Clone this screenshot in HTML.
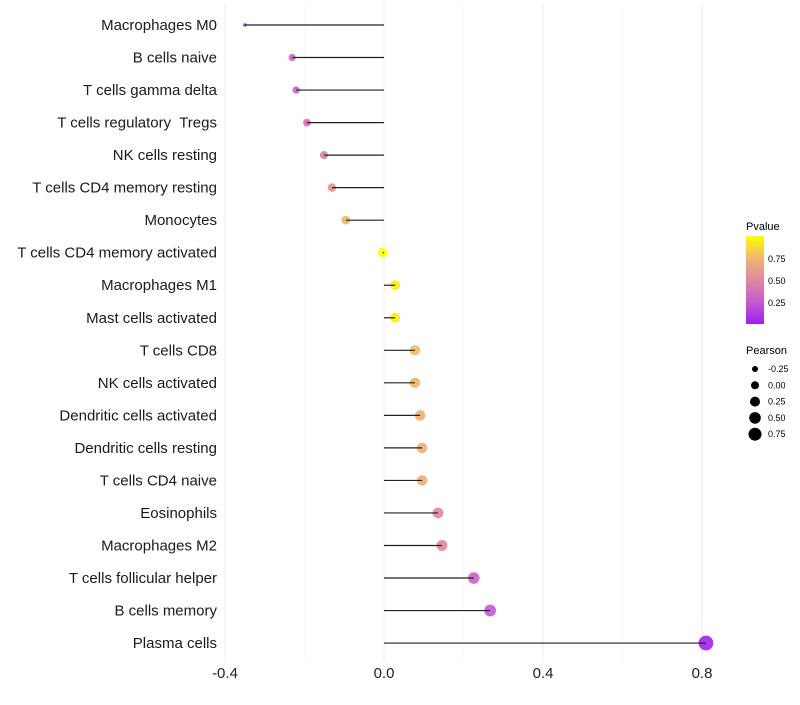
<!DOCTYPE html>
<html><head><meta charset="utf-8"><style>
body{margin:0;background:#fff;font-family:"Liberation Sans",sans-serif}
text{white-space:pre}
</style></head><body>
<svg id="chart" width="800" height="700" xmlns="http://www.w3.org/2000/svg">
<defs><linearGradient id="pg" x1="0" y1="1" x2="0" y2="0">
<stop offset="0" stop-color="#9b1ff0"/><stop offset="0.25" stop-color="#c55bd0"/><stop offset="0.5" stop-color="#dd8aa0"/><stop offset="0.75" stop-color="#f0b570"/><stop offset="1" stop-color="#ffff00"/></linearGradient></defs>
<g id="grid"></g>
<g id="marks"></g>
<g>
<text x="746" y="230" font-size="11">Pvalue</text>
<rect x="746" y="236" width="18" height="88" fill="url(#pg)"/>
<text x="768" y="262" font-size="9">0.75</text>
<text x="768" y="284" font-size="9">0.50</text>
<text x="768" y="306" font-size="9">0.25</text>
</g>
<g id="sizeleg">
<text x="746" y="354" font-size="11">Pearson</text>
</g>
</svg>
<script>
const categories=["Macrophages M0","B cells naive","T cells gamma delta","T cells regulatory  Tregs","NK cells resting","T cells CD4 memory resting","Monocytes","T cells CD4 memory activated","Macrophages M1","Mast cells activated","T cells CD8","NK cells activated","Dendritic cells activated","Dendritic cells resting","T cells CD4 naive","Eosinophils","Macrophages M2","T cells follicular helper","B cells memory","Plasma cells"];
const pearson=[-0.35,-0.231,-0.221,-0.194,-0.151,-0.131,-0.096,-0.003,0.028,0.028,0.078,0.078,0.091,0.096,0.096,0.136,0.146,0.226,0.267,0.81];
const pvalue=[0.05,0.32,0.3,0.36,0.47,0.56,0.74,1.0,0.94,0.94,0.76,0.75,0.73,0.72,0.72,0.52,0.5,0.3,0.25,0.02];
const xTicks=[-0.4,0.0,0.4,0.8];
const xMinor=[-0.2,0.2,0.6];
const sizeLegend=[-0.25,0.00,0.25,0.50,0.75];
const NS="http://www.w3.org/2000/svg";
const xs=v=>384+v*397.5;
const ys=i=>25+i*32.53;
const pMin=Math.min(...pearson),pMax=Math.max(...pearson);
const rs=v=>{const t=Math.max(0,Math.min(1,(v-pMin)/(pMax-pMin)));return 1.8+5.6*Math.sqrt(t);};
const stops=[[0,[160,32,240]],[0.25,[200,90,210]],[0.5,[222,138,160]],[0.75,[240,181,112]],[1,[255,255,0]]];
function col(p){for(let i=1;i<stops.length;i++){if(p<=stops[i][0]){const a=stops[i-1],b=stops[i],t=(p-a[0])/(b[0]-a[0]);return "rgb("+a[1].map((c,k)=>Math.round(c+(b[1][k]-c)*t)).join(",")+")";}}return "rgb(255,255,0)";}
function mk(t,at,parent){const e=document.createElementNS(NS,t);for(const k in at)e.setAttribute(k,at[k]);parent.appendChild(e);return e;}
const grid=document.getElementById("grid"),marks=document.getElementById("marks"),svg=document.getElementById("chart");
xMinor.forEach(v=>{const l=mk("line",{x1:xs(v),x2:xs(v),y1:5,y2:662,stroke:"#f3f3f3","stroke-width":0.6},grid);

});
xTicks.forEach(v=>{const l=mk("line",{x1:xs(v),x2:xs(v),y1:5,y2:662,stroke:"#ebebeb","stroke-width":1},grid);


const t=mk("text",{x:xs(v),y:678,"font-size":15,"text-anchor":"middle",fill:"#222"},svg);t.textContent=v.toFixed(1);

});
categories.forEach((c,i)=>{const y=ys(i);
const t=mk("text",{x:217,y:y+5,"font-size":15,"text-anchor":"end",fill:"#1a1a1a"},svg);t.textContent=c;


const p=mk("circle",{cx:xs(pearson[i]),cy:y,r:rs(pearson[i]),fill:col(pvalue[i]),"fill-opacity":0.92},marks);


const l=mk("line",{x1:xs(0),x2:xs(pearson[i]),y1:y,y2:y,stroke:"#222","stroke-width":1.2},marks);

});
const sl=document.getElementById("sizeleg");
sizeLegend.forEach((v,i)=>{const y=369+i*16.3;
const c=mk("circle",{cx:755,cy:y,r:[3,4,5,5.8,6.5][i],fill:"#000"},sl);


const t=mk("text",{x:768,y:y+3,"font-size":9},sl);t.textContent=v.toFixed(2);

});
</script>
</body></html>
